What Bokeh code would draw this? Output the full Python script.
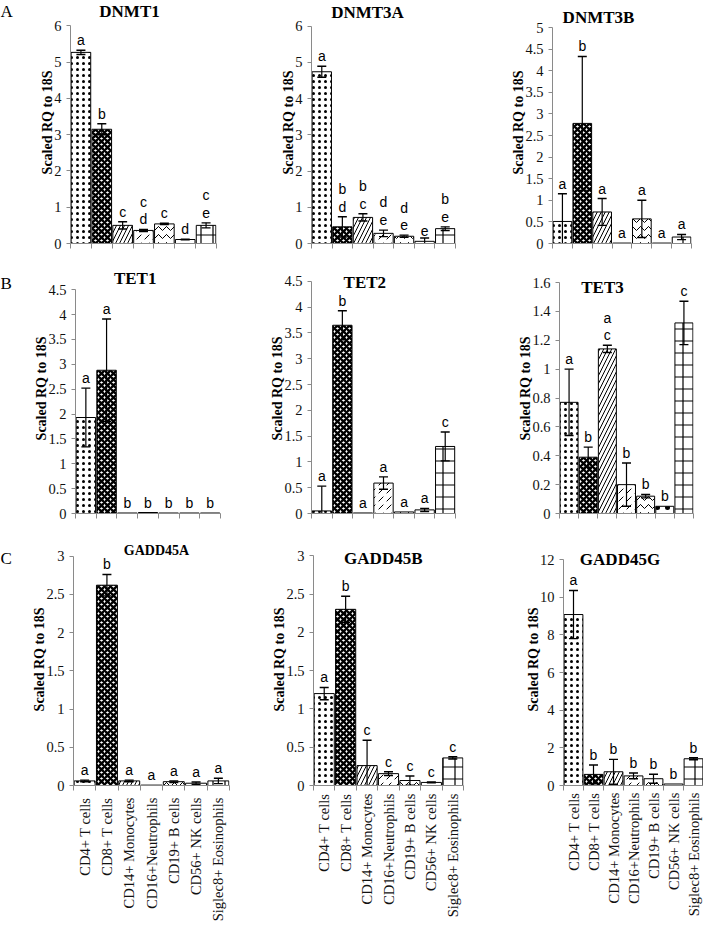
import numpy as np
from bokeh.plotting import figure
from bokeh.layouts import row, column
from bokeh.models import (Range1d, FixedTicker, CustomJSTickFormatter, Label,
                          ColumnDataSource)
from bokeh.core.properties import value
from bokeh.embed import file_html
from bokeh.resources import INLINE

# ---------------- data ----------------
cell_types = ["CD4+ T cells", "CD8+ T cells", "CD14+ Monocytes", "CD16+Neutrophils",
              "CD19+ B cells", "CD56+ NK cells", "Siglec8+ Eosinophils"]

dnmt1_mean = [5.27, 3.15, 0.50, 0.36, 0.54, 0.11, 0.50]
dnmt1_err = [0.06, 0.15, 0.10, 0.03, 0.02, 0.01, 0.07]
dnmt1_sig = ["a", "b", "c", "c\nd", "c", "d", "c\ne"]
dnmt1_ticks = [0, 1, 2, 3, 4, 5, 6]

dnmt3a_mean = [4.74, 0.46, 0.72, 0.28, 0.20, 0.06, 0.41]
dnmt3a_err = [0.15, 0.28, 0.10, 0.09, 0.03, 0.09, 0.05]
dnmt3a_sig = ["a", "b\nd", "b\nc", "d\ne", "d\ne", "e", "b\ne"]
dnmt3a_ticks = [0, 1, 2, 3, 4, 5, 6]

dnmt3b_mean = [0.51, 2.78, 0.73, 0.01, 0.57, 0.01, 0.15]
dnmt3b_err = [0.64, 1.55, 0.31, 0.0, 0.43, 0.0, 0.06]
dnmt3b_sig = ["a", "b", "a", "a", "a", "a", "a"]
dnmt3b_ticks = [0, 0.5, 1, 1.5, 2, 2.5, 3, 3.5, 4, 4.5, 5]

tet1_mean = [1.93, 2.88, 0.01, 0.02, 0.01, 0.01, 0.01]
tet1_err = [0.59, 1.03, 0.0, 0.0, 0.0, 0.0, 0.0]
tet1_sig = ["a", "a", "b", "b", "b", "b", "b"]
tet1_ticks = [0, 0.5, 1, 1.5, 2, 2.5, 3, 3.5, 4, 4.5]

tet2_mean = [0.05, 3.65, 0.01, 0.59, 0.03, 0.07, 1.30]
tet2_err = [0.48, 0.28, 0.0, 0.12, 0.0, 0.03, 0.28]
tet2_sig = ["a", "b", "a", "a", "a", "a", "c"]
tet2_ticks = [0, 0.5, 1, 1.5, 2, 2.5, 3, 3.5, 4, 4.5]

tet3_mean = [0.77, 0.39, 1.14, 0.20, 0.12, 0.05, 1.32]
tet3_err = [0.23, 0.07, 0.025, 0.15, 0.012, 0.0, 0.15]
tet3_sig = ["a", "b", "a\nc", "b", "b", "b", "c"]
tet3_ticks = [0, 0.2, 0.4, 0.6, 0.8, 1.0, 1.2, 1.4, 1.6]

gadd45a_mean = [0.06, 2.62, 0.06, 0.005, 0.05, 0.03, 0.06]
gadd45a_err = [0.01, 0.14, 0.01, 0.0, 0.01, 0.015, 0.035]
gadd45a_sig = ["a", "b", "a", "a", "a", "a", "a"]
gadd45a_ticks = [0, 0.5, 1, 1.5, 2, 2.5, 3]

gadd45b_mean = [1.20, 2.30, 0.26, 0.155, 0.065, 0.04, 0.36]
gadd45b_err = [0.08, 0.17, 0.33, 0.025, 0.06, 0.005, 0.015]
gadd45b_sig = ["a", "b", "c", "c", "c", "c", "c"]
gadd45b_ticks = [0, 0.5, 1, 1.5, 2, 2.5, 3]

gadd45g_mean = [9.08, 0.59, 0.73, 0.51, 0.36, 0.08, 1.42]
gadd45g_err = [1.28, 0.50, 0.66, 0.15, 0.24, 0.0, 0.05]
gadd45g_sig = ["a", "b", "b", "b", "b", "b", "b"]
gadd45g_ticks = [0, 2, 4, 6, 8, 10, 12]

# ---------------- styles ----------------
SERIF = "Liberation Serif"
SANS = "Liberation Sans"
AXIS_GRAY = "#8a8a8a"

bar_fill = ["white"] * 7
bar_hatch = ["dot", "diagonal_cross", "right_diagonal_line", "right_diagonal_dash",
             "horizontal_wave", "dot", "cross"]
bar_hatch_scale = [6, 6, 8, 8, 8, 10, 12]
bar_hatch_weight = [0.55, 2.3, 1.0, 1.0, 1.0, 0.6, 1.2]


def make_tag(tag, box, baseline):
    fx, fy, fw, fh = box
    p = figure(frame_width=fw, frame_height=fh, x_range=Range1d(0, fw),
               y_range=Range1d(0, fh),
               output_backend="svg", toolbar_location=None,
               x_axis_location=None, y_axis_location=None,
               min_border_left=0, min_border_right=0, min_border_top=0,
               min_border_bottom=0)
    p.outline_line_color = None
    p.xgrid.visible = False
    p.ygrid.visible = False
    p.text(x=[0], y=[fy + fh - baseline], text=[tag], text_align="left",
           text_baseline="alphabetic", text_font=value(SERIF),
           text_font_size="17px", text_color="black")
    return p


def make_panel(name, mean, err, sig, ticks, fig_box, frame_box, title_xy,
               title_size, label_standoff=None):
    fx, fy, fw, fh = fig_box
    l, r, t, b = frame_box
    bl = int(round(l - fx))
    fwid = int(round(r - l))
    br = fw - bl - fwid
    bt = 1
    fhei = int(round(b - fy)) - bt
    bb = fh - bt - fhei
    b_r = fy + bt + fhei
    ymax = ticks[-1]
    # frame extends above the axis top so that the title fits inside it
    y_end = ymax * (b_r - (fy + bt)) / (b_r - t)
    n = len(mean)
    p = figure(width=fw, height=fh, x_range=Range1d(0, n),
               y_range=Range1d(ticks[0], y_end),
               output_backend="svg", toolbar_location=None,
               min_border_left=bl, min_border_right=br,
               min_border_top=bt, min_border_bottom=bb)
    p.outline_line_color = None
    p.xgrid.visible = False
    p.ygrid.visible = False
    p.background_fill_color = "white"
    p.border_fill_color = "white"

    x = np.arange(n) + 0.5
    m = np.array(mean, dtype=float)
    e = np.array(err, dtype=float)
    src = ColumnDataSource(dict(x=x, top=m, fill=bar_fill, hatch=bar_hatch,
                                hs=bar_hatch_scale, hw=bar_hatch_weight))
    p.vbar(x="x", top="top", bottom=0, width=0.94, source=src,
           fill_color="fill", line_color="black", line_width=1,
           hatch_pattern="hatch", hatch_scale="hs", hatch_weight="hw",
           hatch_color="black")

    # error bars
    has = e > 0
    xe = x[has]
    up = (m + e)[has]
    lo = np.maximum(m - e, 0)[has]
    p.segment(xe, m[has], xe, up, line_color="black", line_width=1.2)
    p.segment(xe, m[has], xe, lo, line_color="black", line_width=1.2)
    p.scatter(xe, up, marker="dash", size=9, line_color="black", line_width=1.4)
    lo_ok = (m - e)[has] > 0
    p.scatter(xe[lo_ok], lo[lo_ok], marker="dash", size=9, line_color="black",
              line_width=1.4)

    # significance letters
    p.text(x=x, y=m + e, text=sig, text_font=value(SANS), text_font_size="14px",
           text_align="center", text_baseline="bottom", y_offset=-2,
           text_color="black", text_line_height=1.1)

    # y axis
    ya = p.yaxis[0]
    ya.bounds = (ticks[0], ymax)
    ya.ticker = FixedTicker(ticks=ticks)
    ya.formatter = CustomJSTickFormatter(code="return String(Math.round(tick*1000)/1000);")
    ya.axis_line_color = AXIS_GRAY
    ya.major_tick_line_color = AXIS_GRAY
    ya.major_tick_out = 4
    ya.major_tick_in = 0
    ya.minor_tick_line_color = None
    ya.major_label_text_font = SERIF
    ya.major_label_text_font_size = "14.5px"
    ya.major_label_text_color = "#111111"
    ya.major_label_standoff = 5
    ya.axis_label = "Scaled RQ to 18S"
    ya.axis_label_text_font = SERIF
    ya.axis_label_text_font_style = "bold"
    ya.axis_label_text_font_size = "14px"
    ya.axis_label_text_color = "black"
    ya.axis_label_standoff = -4

    # x axis
    xa = p.xaxis[0]
    xa.bounds = (0, n)
    xa.ticker = FixedTicker(ticks=list(x), minor_ticks=list(range(n + 1)))
    xa.axis_line_color = AXIS_GRAY
    xa.major_tick_out = 0
    xa.major_tick_in = 0
    xa.minor_tick_out = 5
    xa.minor_tick_in = 0
    xa.minor_tick_line_color = AXIS_GRAY
    if label_standoff is not None:
        xa.formatter = CustomJSTickFormatter(args=dict(names=cell_types),
                                             code="return names[Math.floor(tick)] || '';")
        xa.major_label_orientation = np.pi / 2
        xa.major_label_text_font = SERIF
        xa.major_label_text_font_size = "14.5px"
        xa.major_label_text_color = "#111111"
        xa.major_label_standoff = label_standoff
    else:
        xa.formatter = CustomJSTickFormatter(code="return '';")
        xa.major_label_text_font_size = "1px"
        xa.major_label_standoff = 0

    # title (inside the frame, above the axis top)
    p.add_layout(Label(x=title_xy[0] - l, y=b_r - title_xy[1], x_units="screen",
                       y_units="screen", text=name, text_align="center",
                       text_baseline="alphabetic", text_font=SERIF,
                       text_font_style="bold", text_font_size=f"{title_size}px",
                       text_color="black"))
    return p


# figure boxes (x, y, w, h) and frame boxes (left, right, top, bottom), reference px
TAG_W = 14
cols_x = [8 + TAG_W, 240, 480]
cols_w = [232 - TAG_W, 240, 231]
rows_y = [8, 270, 540]
rows_h = [262, 270, 392]

tA = make_tag("A", (8, rows_y[0], TAG_W, rows_h[0]), 18.3)
pA1 = make_panel("DNMT1", dnmt1_mean, dnmt1_err, dnmt1_sig, dnmt1_ticks,
                 (cols_x[0], rows_y[0], cols_w[0], rows_h[0]), (78, 224, 33.7, 254.3),
                 (137, 21.7), 17)
pA2 = make_panel("DNMT3A", dnmt3a_mean, dnmt3a_err, dnmt3a_sig, dnmt3a_ticks,
                 (cols_x[1], rows_y[0], cols_w[1], rows_h[0]), (319, 463, 33.7, 252.3),
                 (375, 20.7), 17)
pA3 = make_panel("DNMT3B", dnmt3b_mean, dnmt3b_err, dnmt3b_sig, dnmt3b_ticks,
                 (cols_x[2], rows_y[0], cols_w[2], rows_h[0]), (560, 699, 35, 250.7),
                 (606, 25), 17)

tB = make_tag("B", (8, rows_y[1], TAG_W, rows_h[1]), 290)
pB1 = make_panel("TET1", tet1_mean, tet1_err, tet1_sig, tet1_ticks,
                 (cols_x[0], rows_y[1], cols_w[0], rows_h[1]), (83, 228, 297.7, 525.7),
                 (142.7, 290.7), 17)
pB2 = make_panel("TET2", tet2_mean, tet2_err, tet2_sig, tet2_ticks,
                 (cols_x[1], rows_y[1], cols_w[1], rows_h[1]), (319, 463, 289, 521.7),
                 (372.3, 290.7), 17)
pB3 = make_panel("TET3", tet3_mean, tet3_err, tet3_sig, tet3_ticks,
                 (cols_x[2], rows_y[1], cols_w[2], rows_h[1]), (567, 701, 290, 520.7),
                 (610, 295), 17)

tC = make_tag("C", (8, rows_y[2], TAG_W, rows_h[2]), 565)
pC1 = make_panel("GADD45A", gadd45a_mean, gadd45a_err, gadd45a_sig, gadd45a_ticks,
                 (cols_x[0], rows_y[2], cols_w[0], rows_h[2]), (81, 237, 564, 796.7),
                 (164, 561.7), 14, label_standoff=7)
pC2 = make_panel("GADD45B", gadd45b_mean, gadd45b_err, gadd45b_sig, gadd45b_ticks,
                 (cols_x[1], rows_y[2], cols_w[1], rows_h[2]), (321, 471, 564, 801.7),
                 (390.8, 575), 17, label_standoff=3)
pC3 = make_panel("GADD45G", gadd45g_mean, gadd45g_err, gadd45g_sig, gadd45g_ticks,
                 (cols_x[2], rows_y[2], cols_w[2], rows_h[2]), (571, 711, 568.3, 805),
                 (627.5, 579), 17, label_standoff=2)

layout = column(row(tA, pA1, pA2, pA3), row(tB, pB1, pB2, pB3),
                row(tC, pC1, pC2, pC3))

open("out.html", "w").write(file_html(layout, INLINE))
